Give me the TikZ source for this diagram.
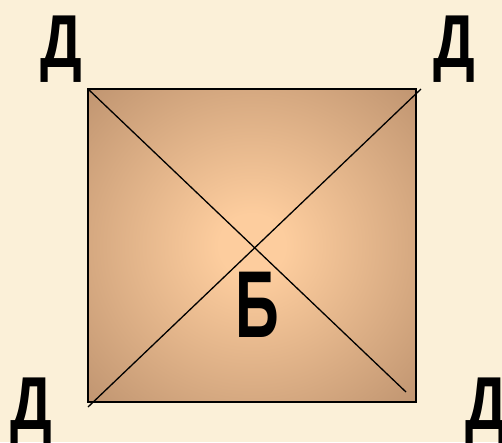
\documentclass[tikz,border=0pt]{standalone}
\usepackage{fontspec}
\setmainfont{Liberation Sans}
\definecolor{bg}{HTML}{FBF0D8}
\definecolor{sqinner}{HTML}{FDCD9E}
\definecolor{sqouter}{HTML}{BF9470}
\pgfdeclareradialshading{squareglow}{\pgfpoint{0bp}{0bp}}{%
  color(0bp)=(sqinner); color(5bp)=(sqinner); color(36bp)=(sqouter); color(50bp)=(sqouter)}
\begin{document}
\begin{tikzpicture}[x=1pt,y=-1pt,
  letter/.style={font=\bfseries\fontsize{75}{75}\selectfont, anchor=base, inner sep=0pt},
  bigletter/.style={font=\bfseries\fontsize{95}{95}\selectfont, anchor=base, inner sep=0pt},
  edge/.style={line width=1.3pt, black}]
\fill[bg] (0,0) rectangle (502,442);
\useasboundingbox (0,0) rectangle (502,442);
\coordinate (tl) at (88,89);
\coordinate (br) at (416,402);
\coordinate (d1s) at (88,89);
\coordinate (d1e) at (406,392);
\coordinate (d2s) at (421,89);
\coordinate (d2e) at (88,407);
\shade[shading=squareglow] (tl) rectangle (br);
\draw[edge] (tl) rectangle (br);
\draw[edge] (d1s) -- (d1e);
\draw[edge] (d2s) -- (d2e);
\node[letter] (dtl) at (61.5,67) {\scalebox{0.78}[1]{Д}};
\node[letter] (dtr) at (454,67) {\scalebox{0.78}[1]{Д}};
\node[letter] (dbl) at (31.5,429) {\scalebox{0.78}[1]{Д}};
\node[letter] (dbr) at (486,429) {\scalebox{0.78}[1]{Д}};
\node[bigletter] (b) at (257.5,337) {\scalebox{0.64}[1]{Б}};
\end{tikzpicture}
\end{document}
